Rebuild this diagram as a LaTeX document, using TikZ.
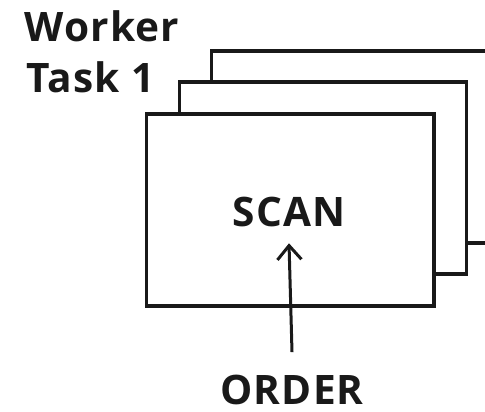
\documentclass[tikz,border=0pt]{standalone}
\usepackage{fontspec}
\setmainfont{Open Sans}[BoldFeatures={LetterSpace=3}]
\usetikzlibrary{positioning,arrows.meta}
\tikzset{
  sheet/.style = {rectangle, draw=black!90, line width=1.6pt, fill=white,
                  minimum width=143.7pt, minimum height=96pt, inner sep=0pt},
  lbl/.style   = {font=\fontsize{20.3}{24}\selectfont\bfseries, text=black!90,
                  inner sep=0pt},
  flow/.style  = {-{Straight Barb[length=7pt,width=12pt]}, line width=1.5pt, black!90},
}
\begin{document}
\begin{tikzpicture}[x=0.5pt,y=-0.5pt]
  \useasboundingbox (0,0) rectangle (485,411);

  % stacked task sheets, back to front
  \node[sheet] (back)  at (355,147) {};
  \node[sheet] (mid)   at (323,178) {};
  \node[sheet] (front) at (290.3,210) {};

  \node[lbl] (scan) at (289,212) {SCAN};
  \node[lbl, anchor=base] (order) at (292,404) {ORDER};

  \node[lbl, anchor=base west] (worker) at (24,42) {Worker};
  \node[lbl, anchor=base west] (task)   at (26,93) {Task 1};

  \draw[flow] ([yshift=11pt]order.north) -- ([yshift=-8pt]scan.south);
\end{tikzpicture}
\end{document}
